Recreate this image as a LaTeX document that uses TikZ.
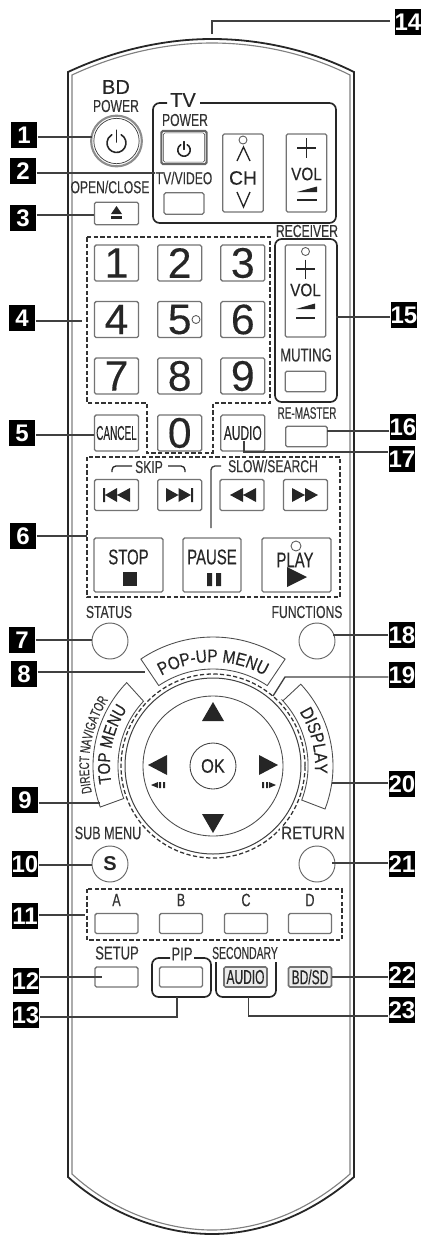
\documentclass[tikz,border=0pt]{standalone}
\usepackage{fontspec}
\setmainfont{Liberation Sans}
\newfontfamily\regfont[FakeBold=0.25]{Liberation Sans}
\newfontfamily\midfont[FakeStretch=0.85, FakeBold=0.25]{Liberation Sans}
\newfontfamily\labfont[FakeStretch=0.7, FakeBold=0.25]{Liberation Sans}
\newfontfamily\tightfont[FakeStretch=0.6, FakeBold=0.25]{Liberation Sans}
\newfontfamily\slimfont[FakeStretch=0.5, FakeBold=0.25]{Liberation Sans}
\usetikzlibrary{decorations.text}
\newcommand{\fs}[1]{\fontsize{#1}{#1}\selectfont}
\tikzset{
  tagbox/.style={fill=black, text=white, font=\bfseries\fs{18}, minimum size=20pt, inner sep=0pt},
  leader/.style={black!75, line width=1pt},
  groupline/.style={black!85, line width=1.25pt, rounded corners=5pt},
  groupdash/.style={black!80, line width=0.95pt, dash pattern=on 3.2pt off 1.8pt},
  keybox/.style={draw=black!55, line width=0.95pt, rounded corners=1.2pt, inner sep=0pt, text=black!85},
  numkey/.style={keybox, minimum width=33pt, minimum height=27pt, font=\regfont\fs{32}},
  skipkey/.style={keybox, minimum width=33pt, minimum height=23.25pt},
  barkey/.style={keybox, minimum width=32.25pt, minimum height=15pt},
  roundkey/.style={circle, draw=black!60, line width=0.7pt, minimum size=27pt, inner sep=0pt, text=black!85},
  lab/.style={text=black!80, inner sep=0pt, font=\labfont\fs{13}},
  labbig/.style={text=black!85, inner sep=0pt, font=\labfont\fs{16}},
  labreg/.style={text=black!85, inner sep=0pt, font=\regfont\fs{14.5}},
  iconfill/.style={fill=black!85},
  iconline/.style={draw=black!85, line width=1.2pt, line cap=round},
  dotmark/.style={draw=black!65, line width=0.65pt},
  arcline/.style={draw=black!70, line width=0.65pt},
}
\newcommand{\powersym}[3]{%
  \begin{scope}[shift={(#1,#2)}, y=0.75pt]
    \draw[iconline] (60:#3) arc (60:-240:#3);
    \draw[iconline] (0,0.1*#3) -- (0,1.35*#3);
  \end{scope}}
\begin{document}
\begin{tikzpicture}[x=0.75pt, y=-0.75pt]
  \useasboundingbox (0,0) rectangle (424,1236);
  % Remote body
  \draw[black!85, line width=1.35pt]
    (68,1177) -- (68,72) .. controls (115,50) and (165,39) .. (212,39)
    .. controls (260,39) and (310,50) .. (354,72) -- (354,1177)
    .. controls (310,1215) and (260,1234) .. (212,1234)
    .. controls (165,1234) and (110,1215) .. (68,1177) -- cycle;
  \draw[black!50, line width=0.85pt]
    (72,1174) -- (72,75) .. controls (117,54) and (165,43) .. (212,43)
    .. controls (260,43) and (308,54) .. (350,75) -- (350,1174)
    .. controls (308,1211) and (260,1230) .. (212,1230)
    .. controls (165,1230) and (112,1211) .. (72,1174) -- cycle;
  % Number tags
  \foreach \n/\tx/\ty in {1/24/135, 2/23/171, 3/23/218, 4/22/318, 5/22/433, 6/23/536,
      7/22/640, 8/24/674, 9/25/800, 10/25/864, 11/25/916, 12/26/981, 13/26/1015,
      14/408/22, 15/404/315, 16/403/427, 17/402/459, 18/402/635, 19/402/675,
      20/402/784, 21/402/864, 22/402/975, 23/402/1010} {
    \node[tagbox] (t\n) at (\tx,\ty) {\n};
  }
  % BD power and open/close
  \node[labreg, font=\regfont\fs{15}] (lbd) at (116,87) {BD};
  \node[lab] (lbdpower) at (116,106) {POWER};
  \node[circle, draw=black!45, line width=1.6pt, minimum size=38pt, inner sep=0pt] (bdpower) at (116.5,141) {};
  \node[circle, draw=black!75, line width=0.55pt, minimum size=34pt, inner sep=0pt] (bdring) at (116.5,141) {};
  \powersym{116.5}{143}{9.5}
  \node[lab] (lopen) at (110,187) {OPEN/CLOSE};
  \node[keybox, minimum width=33pt, minimum height=17pt] (eject) at (116.5,213.5) {};
  \fill[iconfill] (116.5,206) -- (122,214) -- (111,214) -- cycle;
  \fill[iconfill] (111,216) rectangle (122,219);
  % TV group
  \draw[groupline] (167,103) -| (153,223) -| (336,103) -- (200,103);
  \node[labreg, font=\regfont\fs{15}] (ltv) at (183,100) {TV};
  \node[lab] (ltvpower) at (185,120) {POWER};
  \node[keybox, draw=black!60, line width=1.6pt, minimum width=34pt, minimum height=25pt] (tvpower) at (184,147.5) {};
  \node[keybox, draw=black!75, line width=0.45pt, minimum width=31pt, minimum height=22pt] (tvring) at (184,147.5) {};
  \powersym{184}{150}{6.2}
  \node[lab] (ltvvideo) at (184,178) {TV/VIDEO};
  \node[keybox, minimum width=30pt, minimum height=16pt] (tvvideo) at (184,203.5) {};
  \node[keybox, minimum width=30.5pt, minimum height=58.5pt] (chkey) at (243,173) {};
  \draw[dotmark] (243,140) circle (4);
  \draw[iconline, line width=1pt, line cap=butt] (237,161) -- (243.5,147) -- (250,161);
  \node[labreg] (lch) at (243,178) {CH};
  \draw[iconline, line width=1pt, line cap=butt] (237,192) -- (243.5,207) -- (250,192);
  \node[keybox, minimum width=30.5pt, minimum height=58.5pt] (volkey) at (306.5,173) {};
  \draw[iconline, line cap=butt] (297,148) -- (316,148) (306.5,138) -- (306.5,158);
  \node[labreg, font=\midfont\fs{13.5}] (lvol) at (306.5,174) {VOL};
  \fill[iconfill] (297,192) -- (317,186.5) -- (317,192) -- cycle;
  \draw[iconline, line cap=butt] (297,200) -- (317,200);
  % Number pad
  \draw[groupdash] (87,237) -- (270,237) -- (270,403) -- (213,403) -- (213,453)
    -- (147,453) -- (147,403) -- (87,403) -- cycle;
  \foreach \k/\kx/\ky in {1/116.5/263, 2/179.7/263, 3/242.8/263, 4/116.5/319.5, 5/179.7/319.5,
      6/242.8/319.5, 7/116.5/376, 8/179.7/376, 9/242.8/376, 0/179.7/433} {
    \node[numkey] (key\k) at (\kx,\ky) {\k};
  }
  \draw[dotmark, fill=white] (196,319.5) circle (4);
  \node[numkey, font=\slimfont\fs{15}] (cancel) at (116.5,433) {CANCEL};
  \node[numkey, font=\tightfont\fs{15}] (audio) at (242.8,433) {AUDIO};
  % Receiver group
  \node[lab] (lreceiver) at (307,231) {RECEIVER};
  \draw[groupline] (275,239) rectangle (337,402);
  \node[keybox, minimum width=30.5pt, minimum height=69pt] (rcvol) at (305.5,291) {};
  \draw[dotmark] (305.5,251.5) circle (4);
  \draw[iconline, line cap=butt] (296,269) -- (315,269) (305.5,259.5) -- (305.5,278.5);
  \node[labreg, font=\midfont\fs{13.5}] (lrcvol) at (305.5,290) {VOL};
  \fill[iconfill] (296,309) -- (315,303.5) -- (315,309) -- cycle;
  \draw[iconline, line cap=butt] (296,318) -- (315,318);
  \node[lab, font=\labfont\fs{14}] (lmuting) at (306,355) {MUTING};
  \node[keybox, minimum width=30.5pt, minimum height=15.5pt] (muting) at (305.5,381.5) {};
  \node[lab, font=\tightfont\fs{12.5}] (lremaster) at (307,413) {RE-MASTER};
  \node[keybox, minimum width=31pt, minimum height=15.5pt] (remaster) at (306.5,436.5) {};
  % Transport group
  \draw[groupdash] (87,457) rectangle (340,597);
  \node[lab] (lskip) at (149,467) {SKIP};
  \draw[groupline, line width=1pt, rounded corners=3pt] (112,472) |- (132,466);
  \draw[groupline, line width=1pt, rounded corners=3pt] (168,466) -| (185,472);
  \node[lab] (lslow) at (273,466) {SLOW/SEARCH};
  \foreach \s/\sx in {skipback/116.5, skipnext/179.7, rewind/242, forward/305.5} {
    \node[skipkey] (\s) at (\sx,495) {};
  }
  \fill[iconfill] (103,488) rectangle (105,502)
    (105,495) -- (117,488) -- (117,502) -- cycle (117,495) -- (130,488) -- (130,502) -- cycle;
  \fill[iconfill] (191,488) rectangle (193,502)
    (166,488) -- (178.5,495) -- (166,502) -- cycle (178.5,488) -- (191,495) -- (178.5,502) -- cycle;
  \fill[iconfill] (230,495) -- (243,488) -- (243,502) -- cycle (243,495) -- (256,488) -- (256,502) -- cycle;
  \fill[iconfill] (292,488) -- (305,495) -- (292,502) -- cycle (305,488) -- (318,495) -- (305,502) -- cycle;
  \node[keybox, minimum width=51.75pt, minimum height=40.5pt] (stop) at (128.5,565) {};
  \node[labbig] (lstop) at (128.5,557) {STOP};
  \fill[iconfill] (123,572) rectangle (137,586);
  \node[keybox, minimum width=43.5pt, minimum height=40.5pt] (pause) at (212,565) {};
  \node[labbig] (lpause) at (212,557) {PAUSE};
  \fill[iconfill] (207,573) rectangle (212,586) (216,573) rectangle (221,586);
  \node[keybox, minimum width=51.75pt, minimum height=40.5pt] (play) at (296.5,565) {};
  \draw[dotmark] (296,546) circle (5);
  \node[labbig] (lplay) at (295,560) {PLAY};
  \fill[iconfill] (287,567) -- (307,577) -- (287,587) -- cycle;
  \draw[leader, rounded corners=3pt] (211,528) |- (221,466);
  % Status and functions
  \node[lab] (lstatus) at (109,612) {STATUS};
  \node[lab] (lfunctions) at (307,612) {FUNCTIONS};
  \node[roundkey] (status) at (110,641) {};
  \node[roundkey] (functions) at (317,641) {};
  % Cursor pad
  \begin{scope}[shift={(213,766)}, y=0.75pt]
    \draw[arcline] (124:97) -- (124:129) arc (124:56:129) -- (56:97) arc (56:124:97) -- cycle;
    \draw[arcline] (137:95) -- (136:120) arc (136:200:120) -- (200:95) arc (200:137:95) -- cycle;
    \draw[arcline] (43:96) -- (43:120) arc (43:-21:120) -- (-21:95) arc (-21:43:96) -- cycle;
    \path[decorate, decoration={text along path, text align=center,
      text={|\midfont\fs{13.5}\color{black!85}|POP-UP MENU}}] (128:104) arc (128:52:104);
    \path[decorate, decoration={text along path, text align=center,
      text={|\midfont\fs{13}\color{black!85}|TOP MENU}}] (198:103) arc (198:138:103);
    \path[decorate, decoration={text along path, text align=center,
      text={|\labfont\fs{10.5}\color{black!80}|DIRECT NAVIGATOR}}] (200:124) arc (200:140:124);
    \path[decorate, decoration={text along path, text align=center,
      text={|\midfont\fs{13.5}\color{black!85}|DISPLAY}}] (42:102) arc (42:-14:102);
    \draw[black!75, line width=0.75pt] (0,0) circle (88);
    \draw[groupdash] (0,0) circle (92);
    \draw[arcline] (0,0) circle (70);
  \end{scope}
  \node[circle, draw=black!75, line width=0.65pt, minimum size=34.5pt, inner sep=0pt, text=black!85, font=\midfont\fs{14.5}] (ok) at (213,766) {OK};
  \fill[iconfill] (213,702) -- (224,721) -- (202,721) -- cycle;
  \fill[iconfill] (213,833) -- (224,814) -- (202,814) -- cycle;
  \fill[iconfill] (148,765) -- (167,755) -- (167,775) -- cycle;
  \fill[iconfill] (278,765) -- (259,755) -- (259,775) -- cycle;
  \fill[iconfill] (151,785) -- (158,782) -- (158,788) -- cycle (159,782) rectangle (161,788) (163,782) rectangle (165,788);
  \fill[iconfill] (276,785) -- (269,782) -- (269,788) -- cycle (266,782) rectangle (268,788) (262,782) rectangle (264,788);
  % Sub menu and return
  \node[lab, font=\labfont\fs{13.5}, fill=white, inner sep=0.5pt] (lsubmenu) at (108,833) {SUB MENU};
  \node[lab, font=\midfont\fs{13.5}, fill=white, inner sep=0.5pt] (lreturn) at (313,833) {RETURN};
  \node[roundkey, font=\bfseries\fs{15}] (submenu) at (110,864) {S};
  \node[roundkey] (return) at (317,864) {};
  % Colour keys
  \draw[groupdash] (87,889) rectangle (342,940);
  \foreach \c/\cx in {A/116.5, B/181, C/246, D/310} {
    \node[lab, font=\labfont\fs{13.5}] (l\c) at (\cx,900) {\c};
    \node[barkey] (key\c) at (\cx,923.5) {};
  }
  % Bottom row
  \node[lab, font=\labfont\fs{14}] (lsetup) at (117,953) {SETUP};
  \node[barkey] (setup) at (116.5,977) {};
  \draw[groupline] (170,958) -| (152,997) -| (211,958) -- (194,958);
  \node[lab, font=\labfont\fs{14}] (lpip) at (182,954) {PIP};
  \node[barkey] (pip) at (181,977) {};
  \draw[groupline] (216,962) |- (276,997) -- (276,962);
  \node[lab, font=\tightfont\fs{13}] (lsecondary) at (245,953) {SECONDARY};
  \node[barkey, line width=1.2pt, fill=black!8, font=\tightfont\fs{15}] (audio2) at (245.5,977) {AUDIO};
  \node[barkey, line width=1.2pt, fill=black!8, font=\tightfont\fs{15}] (bdsd) at (310,977) {BD/SD};
  % Leader lines
  \foreach \n/\ex/\ey in {1/92/137, 2/155/173, 3/94/215, 4/82/321, 5/94/435, 6/87/536, 7/92/640,
      8/145/672, 9/100/803, 10/92/865, 11/85/915, 12/102/977} {
    \coordinate (e\n) at (\ex,\ey);
    \draw[leader] (t\n.east |- e\n) -- (e\n);
  }
  \foreach \n/\ex/\ey in {15/336/317, 16/327/431, 18/333/635, 20/332/783, 21/332/863, 22/332/977} {
    \coordinate (e\n) at (\ex,\ey);
    \draw[leader] (t\n.west |- e\n) -- (e\n);
  }
  \coordinate (e13) at (177,997);
  \coordinate (c13) at (177,1017);
  \draw[leader] (e13) -- (c13) -- (t13.east |- c13);
  \coordinate (e14) at (212,34);
  \coordinate (c14) at (212,21);
  \coordinate (f14) at (390,21);
  \draw[leader] (e14) -- (c14) -- (f14);
  \coordinate (e17) at (244,441);
  \coordinate (c17) at (244,452);
  \draw[leader] (e17) -- (c17) -- (t17.west |- c17);
  \coordinate (e19) at (273,696);
  \coordinate (c19) at (285,677);
  \draw[leader] (e19) -- (c19) -- (t19.west |- c19);
  \coordinate (e23) at (248.5,997);
  \coordinate (c23) at (248.5,1016);
  \draw[leader] (e23) -- (c23) -- (t23.west |- c23);
\end{tikzpicture}
\end{document}
